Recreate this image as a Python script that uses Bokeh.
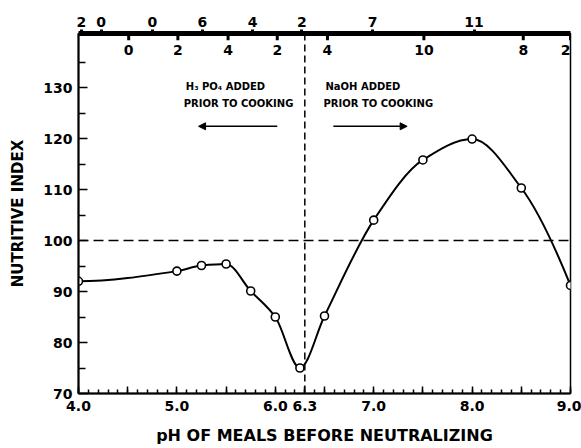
import numpy as np
from bokeh.plotting import figure
from bokeh.models import (LinearAxis, FixedTicker, Range1d, Span, Arrow, NormalHead,
                          ColumnDataSource, LabelSet, Label)
from bokeh.core.properties import value
from bokeh.embed import file_html
from bokeh.resources import INLINE

# ---- data ----
ph = [4.0, 5.0, 5.25, 5.5, 5.75, 6.0, 6.25, 6.5, 7.0, 7.5, 8.0, 8.5, 9.0]
nutritive_index = [92.0, 94.0, 95.1, 95.4, 90.1, 85.0, 75.0, 85.2, 104.0, 115.8, 119.9, 110.3, 91.2]

y_ticks = [70, 80, 90, 100, 110, 120, 130]
y_minor = [75, 85, 95, 105, 115, 125, 135]
x_labeled = [4.0, 5.0, 6.0, 6.3, 7.0, 8.0, 9.0]
x_labels = ["4.0", "5.0", "6.0", "6.3", "7.0", "8.0", "9.0"]

top_upper_pos = [4.03, 4.23, 4.75, 5.26, 5.77, 6.27, 6.99, 8.02]
top_upper_lab = ["2", "0", "0", "6", "4", "2", "7", "11"]
top_lower_pos = [4.51, 5.01, 5.52, 6.02, 6.53, 7.51, 8.52, 9.0]
top_lower_lab = ["0", "2", "4", "2", "4", "10", "8", "2"]
top_lower_align = ["center", "center", "center", "center", "center", "center", "center", "right"]

reference_index = 100
neutral_ph = 6.3

FONT = "DejaVu Sans"

p = figure(width=581, height=448, output_backend="svg", toolbar_location=None,
           x_range=Range1d(4.0, 9.0), y_range=Range1d(70, 140.6),
           min_border_left=78, min_border_right=11, min_border_top=33, min_border_bottom=55)
p.xgrid.visible = False
p.ygrid.visible = False
p.outline_line_color = "black"
p.outline_line_width = 1.5
p.background_fill_color = "white"
p.border_fill_color = "white"

# bottom axis
x_major = sorted(list(np.arange(4.0, 9.01, 0.5)) + [neutral_ph])
x_major = [float(v) for v in x_major]
x_minor = [float(v) for v in np.round(np.arange(4.0, 9.001, 0.1), 1)]
overrides = {}
for t in x_major:
    overrides[t] = ""
for t, lab in zip(x_labeled, x_labels):
    overrides[t] = lab
xa = p.xaxis[0]
xa.ticker = FixedTicker(ticks=x_major, minor_ticks=x_minor)
xa.major_label_overrides = overrides
xa.major_tick_in = 7
xa.major_tick_out = 0
xa.minor_tick_in = 4
xa.minor_tick_out = 0
xa.axis_line_width = 2
xa.major_tick_line_width = 1.5
xa.minor_tick_line_width = 1.5
xa.major_label_standoff = 7
xa.major_label_text_font = FONT
xa.major_label_text_font_style = "bold"
xa.major_label_text_font_size = "14px"
xa.major_label_text_color = "black"
xa.axis_label = "pH OF MEALS BEFORE NEUTRALIZING"
xa.axis_label_text_font = FONT
xa.axis_label_text_font_style = "bold"
xa.axis_label_text_font_size = "16px"
xa.axis_label_text_color = "black"
xa.axis_label_standoff = 12

# left axis
ya = p.yaxis[0]
ya.ticker = FixedTicker(ticks=y_ticks, minor_ticks=y_minor)
ya.major_tick_in = 9
ya.major_tick_out = 0
ya.minor_tick_in = 7
ya.minor_tick_out = 0
ya.axis_line_width = 2
ya.major_tick_line_width = 1.5
ya.minor_tick_line_width = 1.5
ya.major_label_standoff = 6
ya.major_label_text_font = FONT
ya.major_label_text_font_style = "bold"
ya.major_label_text_font_size = "14px"
ya.major_label_text_color = "black"
ya.axis_label = "NUTRITIVE INDEX"
ya.axis_label_text_font = FONT
ya.axis_label_text_font_style = "bold"
ya.axis_label_text_font_size = "15px"
ya.axis_label_text_color = "black"
ya.axis_label_standoff = 13

# top bracket axis
top = LinearAxis(ticker=FixedTicker(ticks=top_upper_pos, minor_ticks=[]),
                 major_label_overrides={t: l for t, l in zip(top_upper_pos, top_upper_lab)})
top.axis_line_width = 5
top.major_tick_in = 0
top.major_tick_out = 4
top.major_tick_line_width = 3
top.minor_tick_line_color = None
top.major_label_standoff = 3
top.major_label_text_font = FONT
top.major_label_text_font_style = "bold"
top.major_label_text_font_size = "14px"
top.major_label_text_color = "black"
p.add_layout(top, "above")

# downward bumps and lower labels of the top scale
bump_src = ColumnDataSource(dict(x=top_lower_pos, y0=[140.6] * len(top_lower_pos),
                                 y1=[139.3] * len(top_lower_pos), lab=top_lower_lab,
                                 ly=[137.3] * len(top_lower_pos), align=top_lower_align))
p.segment(x0="x", y0="y0", x1="x", y1="y1", source=bump_src, line_width=3, line_color="black")
p.add_layout(LabelSet(x="x", y="ly", text="lab", source=bump_src, text_align="align",
                      text_baseline="middle", text_font=value(FONT),
                      text_font_style=value("bold"), text_font_size=value("14px"),
                      text_color=value("black")))

# reference lines
p.add_layout(Span(location=reference_index, dimension="width", line_color="black",
                  line_width=1.5, line_dash="10 5"))
p.add_layout(Span(location=neutral_ph, dimension="height", line_color="black",
                  line_width=1.5, line_dash="7 4"))

# smooth curve through the points (monotone cubic, drawn as Bezier segments)
def pchip_slopes(x, y):
    x = np.asarray(x, float)
    y = np.asarray(y, float)
    h = np.diff(x)
    d = np.diff(y) / h
    n = len(x)
    m = np.zeros(n)
    for k in range(1, n - 1):
        if d[k - 1] * d[k] > 0:
            w1 = 2 * h[k] + h[k - 1]
            w2 = h[k] + 2 * h[k - 1]
            m[k] = (w1 + w2) / (w1 / d[k - 1] + w2 / d[k])

    def end(h0, h1, d0, d1):
        s = ((2 * h0 + h1) * d0 - h0 * d1) / (h0 + h1)
        if np.sign(s) != np.sign(d0):
            s = 0.0
        elif np.sign(d0) != np.sign(d1) and abs(s) > abs(3 * d0):
            s = 3 * d0
        return s

    m[0] = end(h[0], h[1], d[0], d[1])
    m[-1] = end(h[-1], h[-2], d[-1], d[-2])
    return m

xs = np.asarray(ph, float)
ys = np.asarray(nutritive_index, float)
ms = pchip_slopes(xs, ys)
hh = np.diff(xs)
p.bezier(x0=xs[:-1], y0=ys[:-1], x1=xs[1:], y1=ys[1:],
         cx0=xs[:-1] + hh / 3, cy0=ys[:-1] + ms[:-1] * hh / 3,
         cx1=xs[1:] - hh / 3, cy1=ys[1:] - ms[1:] * hh / 3,
         line_color="black", line_width=2)

p.scatter(ph, nutritive_index, size=8, marker="circle", fill_color="white",
          line_color="black", line_width=1.6)

# annotations
def lab(x, y, text):
    p.add_layout(Label(x=x, y=y, text=text, text_align="left", text_baseline="middle",
                       text_font=FONT, text_font_style="bold", text_font_size="10px",
                       text_color="black"))

lab(5.09, 130.2, "H₃ PO₄ ADDED")
lab(5.07, 126.8, "PRIOR TO COOKING")
lab(6.51, 130.2, "NaOH ADDED")
lab(6.49, 126.8, "PRIOR TO COOKING")

p.add_layout(Arrow(end=NormalHead(size=7, fill_color="black", line_color="black"),
                   x_start=6.02, y_start=122.4, x_end=5.22, y_end=122.4,
                   line_color="black", line_width=1.5))
p.add_layout(Arrow(end=NormalHead(size=7, fill_color="black", line_color="black"),
                   x_start=6.59, y_start=122.4, x_end=7.34, y_end=122.4,
                   line_color="black", line_width=1.5))

open("out.html", "w").write(file_html(p, INLINE))
